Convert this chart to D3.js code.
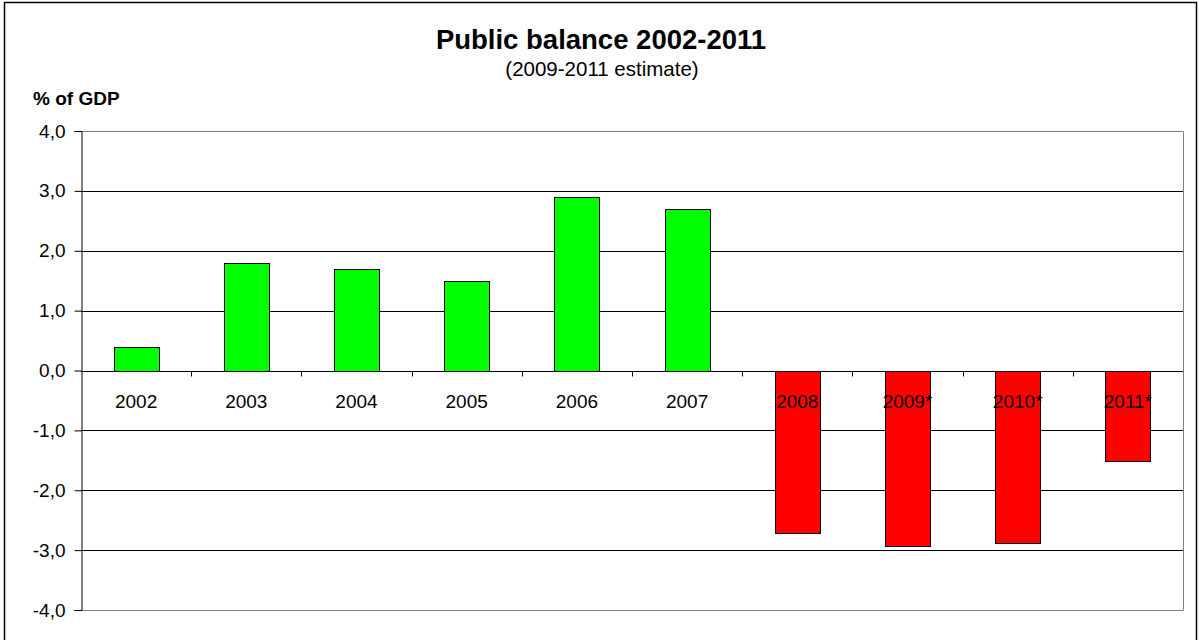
<!DOCTYPE html>
<html>
<head>
<meta charset="utf-8">
<title>Public balance 2002-2011</title>
<script src="https://cdnjs.cloudflare.com/ajax/libs/d3/7.8.5/d3.min.js"></script>
<style>
  body { margin: 0; background: #fff; }
  svg { display: block; font-family: "Liberation Sans", Arial, sans-serif; }
</style>
</head>
<body>
<svg width="1199" height="640"></svg>
<script>
// data
var years = ["2002", "2003", "2004", "2005", "2006", "2007", "2008", "2009*", "2010*", "2011*"];
var balance = [0.4, 1.8, 1.7, 1.5, 2.9, 2.7, -2.7, -2.93, -2.88, -1.5];
var yTicks = [-4, -3, -2, -1, 0, 1, 2, 3, 4];

var svg = d3.select("svg"),
    margin = { top: 131, right: 16, bottom: 30, left: 81 },
    width = 1183 - margin.left,
    height = 610 - margin.top;

// outer frame
svg.append("rect")
    .attr("x", 4.5).attr("y", 2.5)
    .attr("width", 1192).attr("height", 660)
    .attr("fill", "none").attr("stroke", "#000").attr("stroke-width", 1.5);

var g = svg.append("g")
    .attr("transform", "translate(" + margin.left + "," + margin.top + ")");

var x = d3.scaleBand().domain(years).range([0, width]).padding(0);
var y = d3.scaleLinear().domain([-4, 4]).range([height, 0]);

// gridlines
g.append("g")
    .selectAll("line")
    .data(yTicks)
    .enter().append("line")
    .attr("x1", 0).attr("x2", width)
    .attr("y1", function (d) { return Math.round(y(d)) + 0.5; })
    .attr("y2", function (d) { return Math.round(y(d)) + 0.5; })
    .attr("stroke", function (d) { return (d === 4 || d === -4) ? "#808080" : "#000"; })
    .attr("stroke-width", 1);

// right edge of plot area
g.append("line")
    .attr("x1", width + 0.5).attr("x2", width + 0.5)
    .attr("y1", Math.round(y(4)) + 0.5).attr("y2", Math.round(y(-4)) + 0.5)
    .attr("stroke", "#808080");

// bars
var barW = x.bandwidth() * 0.41;
g.selectAll(".bar")
    .data(balance)
    .enter().append("rect")
    .attr("class", "bar")
    .attr("x", function (d, i) { return Math.round(x(years[i]) + (x.bandwidth() - barW) / 2) + 0.5; })
    .attr("y", function (d) { return Math.round(y(Math.max(0, d))) + 0.5; })
    .attr("width", Math.round(barW))
    .attr("height", function (d) { return Math.round(Math.abs(y(d) - y(0))); })
    .attr("fill", function (d) { return d >= 0 ? "#00FF00" : "#FF0000"; })
    .attr("stroke", "#000")
    .attr("stroke-width", 1);

// y axis
var yAxis = g.append("g")
    .attr("transform", "translate(0.5,0)")
    .call(d3.axisLeft(y).tickValues(yTicks).tickSize(7).tickPadding(9)
        .tickFormat(function (d) { return d3.format(".1f")(d).replace(".", ",").replace("\u2212", "-"); }));
yAxis.select(".domain").attr("stroke", "#000");
yAxis.selectAll(".tick line").attr("stroke", "#000");
yAxis.selectAll("text").attr("font-size", 19).attr("fill", "#000")
    .attr("font-family", "Liberation Sans, Arial, sans-serif");

// zero axis with category ticks between bars
var zeroY = Math.round(y(0)) + 0.5;
g.append("line")
    .attr("x1", 0).attr("x2", width)
    .attr("y1", zeroY).attr("y2", zeroY)
    .attr("stroke", "#000");
g.append("g")
    .selectAll("line")
    .data(years.slice(1))
    .enter().append("line")
    .attr("x1", function (d) { return Math.round(x(d)) + 0.5; })
    .attr("x2", function (d) { return Math.round(x(d)) + 0.5; })
    .attr("y1", zeroY).attr("y2", zeroY + 5)
    .attr("stroke", "#000");

// category labels
g.append("g")
    .selectAll("text")
    .data(years)
    .enter().append("text")
    .attr("x", function (d) { return x(d) + x.bandwidth() / 2; })
    .attr("y", zeroY + 36)
    .attr("text-anchor", "middle")
    .attr("font-size", 19)
    .attr("fill", "#000")
    .text(function (d) { return d; });

// titles
svg.append("text")
    .attr("x", 601).attr("y", 49)
    .attr("text-anchor", "middle")
    .attr("font-size", 27.5).attr("font-weight", "bold")
    .text("Public balance 2002-2011");
svg.append("text")
    .attr("x", 602).attr("y", 76)
    .attr("text-anchor", "middle")
    .attr("font-size", 20.5)
    .text("(2009-2011 estimate)");
svg.append("text")
    .attr("x", 33).attr("y", 105)
    .attr("font-size", 19).attr("font-weight", "bold")
    .text("% of GDP");
</script>
</body>
</html>
